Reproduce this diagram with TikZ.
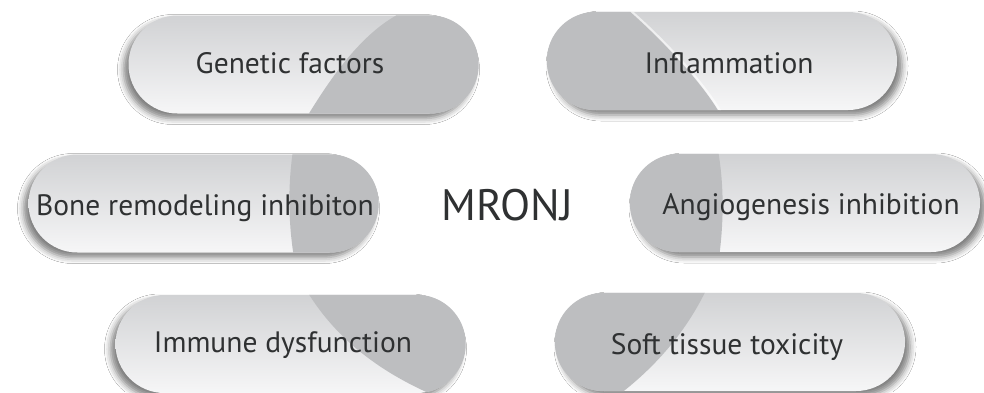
\documentclass[tikz,border=0pt]{standalone}
\usepackage{fontspec}
\setmainfont{PT Sans}
\usetikzlibrary{shadows.blur}
\definecolor{capgray}{HTML}{BDBEC0}
\definecolor{pilltop}{HTML}{D1D2D4}
\definecolor{pillbot}{HTML}{F6F6F7}
\definecolor{ink}{HTML}{2F3132}
\begin{document}
\begin{tikzpicture}[x=1pt,y=-1pt,
    pill/.style={rectangle,rounded corners=49pt,minimum width=350pt,minimum height=98pt,inner sep=0pt,
      top color=pilltop,bottom color=pillbot,
      blur shadow={shadow xshift=#1,shadow yshift=-5pt,shadow blur radius=6pt,shadow opacity=50}},
    lbl/.style={font=\fontsize{29.5}{31}\selectfont,text=ink,anchor=base,inner sep=0pt},
    hub/.style={font=\fontsize{44}{46}\selectfont,text=ink,anchor=base,inner sep=0pt}
  ]
  \path[use as bounding box,fill=white] (0,0) rectangle (984,392);
  % the six pills
  \node[pill=-5pt] (gen) at (303.5,64.5) {};
  \node[pill=5pt] (infl) at (722,61) {};
  \node[pill=-5pt] (bone) at (203.5,203.5) {};
  \node[pill=5pt] (angio) at (805,203) {};
  \node[pill=-5pt] (imm) at (290.5,344) {};
  \node[pill=5pt] (soft) at (730,342) {};
  % darker caps
  \begin{scope}
    \clip[rounded corners=49pt] (gen.south west) rectangle (gen.north east);
    \fill[capgray] (397,5) -- (397,15) .. controls (357,37) and (326,86) .. (308,115) -- (308,125) -- (490,125) -- (490,5) -- cycle;
  \end{scope}
  \begin{scope}
    \clip[rounded corners=49pt] (infl.south west) rectangle (infl.north east);
    \fill[capgray] (628,5) -- (628,10) .. controls (660,38) and (700,80) .. (719,112) -- (719,120) -- (540,120) -- (540,5) -- cycle;
    \draw[white,line width=2pt,opacity=0.6] ([xshift=2pt]628,10) .. controls ([xshift=2pt]660,38) and ([xshift=2pt]700,80) .. ([xshift=2pt]719,112);
  \end{scope}
  \begin{scope}
    \clip[rounded corners=49pt] (bone.south west) rectangle (bone.north east);
    \fill[capgray] (293,150) .. controls (288,185) and (288,220) .. (294,258) -- (390,258) -- (390,150) -- cycle;
  \end{scope}
  \begin{scope}
    \clip[rounded corners=49pt] (angio.south west) rectangle (angio.north east);
    \fill[capgray] (718,150) .. controls (724,185) and (724,220) .. (719,258) -- (620,258) -- (620,150) -- cycle;
  \end{scope}
  \begin{scope}
    \clip[rounded corners=49pt] (imm.south west) rectangle (imm.north east);
    \fill[capgray] (305,288) .. controls (330,330) and (370,370) .. (445,400) -- (480,400) -- (480,288) -- cycle;
  \end{scope}
  \begin{scope}
    \clip[rounded corners=49pt] (soft.south west) rectangle (soft.north east);
    \fill[capgray] (708,286) .. controls (690,325) and (660,365) .. (612,400) -- (550,400) -- (550,286) -- cycle;
  \end{scope}
  % labels
  \node[lbl] (gen-t) at (290,73) {Genetic factors};
  \node[lbl] (infl-t) at (729,73) {Inflammation};
  \node[lbl] (bone-t) at (205,215) {Bone remodeling inhibiton};
  \node[lbl] (angio-t) at (811,214) {Angiogenesis inhibition};
  \node[lbl] (imm-t) at (283,352) {Immune dysfunction};
  \node[lbl] (soft-t) at (727,354) {Soft tissue toxicity};
  \node[hub] (mronj) at (507,220) {MRONJ};
\end{tikzpicture}
\end{document}
